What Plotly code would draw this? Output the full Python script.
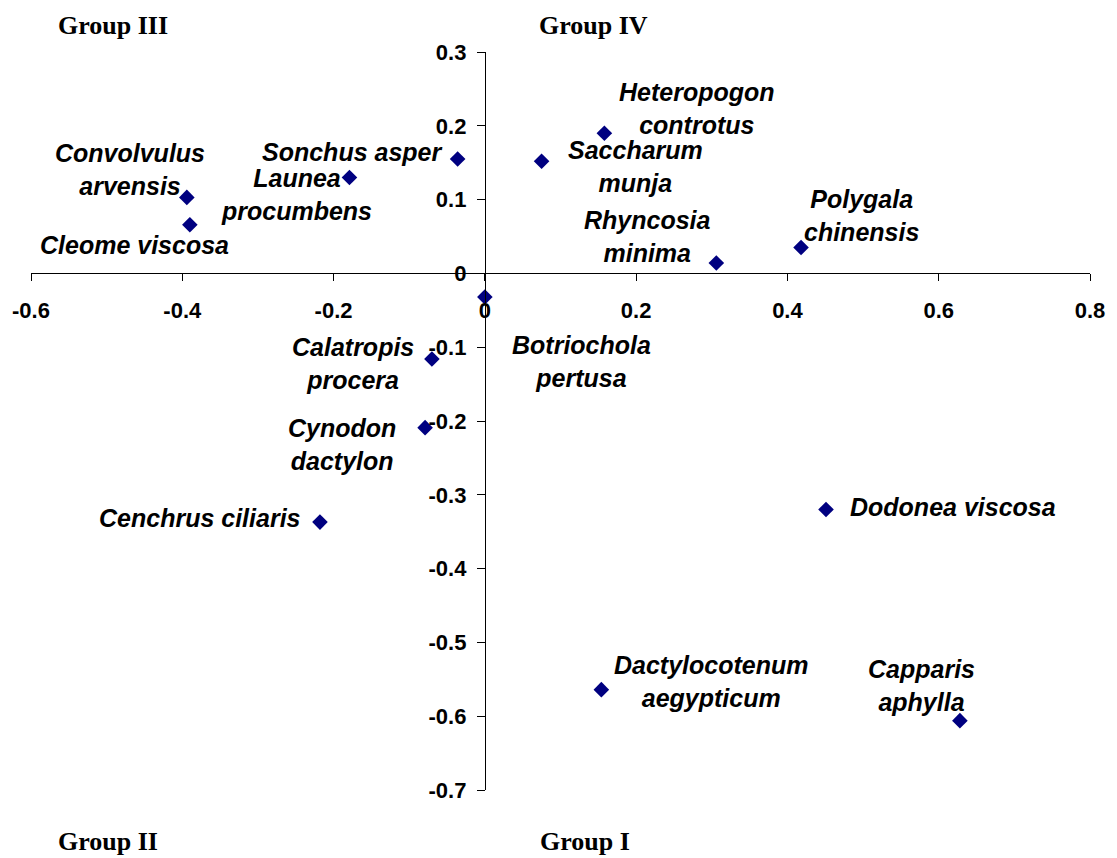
import plotly.graph_objects as go

# ---- data ----
species = [
    "Convolvulus<br>arvensis", "Cleome viscosa", "Launea<br>procumbens", "Sonchus asper",
    "Saccharum<br>munja", "Heteropogon<br>controtus", "Rhyncosia<br>minima",
    "Polygala<br>chinensis", "Botriochola<br>pertusa", "Calatropis<br>procera",
    "Cynodon<br>dactylon", "Cenchrus ciliaris", "Dodonea viscosa",
    "Dactylocotenum<br>aegypticum", "Capparis<br>aphylla",
]
pc1 = [-0.394, -0.390, -0.179, -0.036, 0.075, 0.158, 0.306, 0.418, 0.000,
       -0.070, -0.079, -0.218, 0.451, 0.154, 0.628]
pc2 = [0.103, 0.066, 0.130, 0.155, 0.152, 0.190, 0.014, 0.035, -0.032,
       -0.116, -0.209, -0.337, -0.320, -0.564, -0.606]
x_ticks = [-0.6, -0.4, -0.2, 0, 0.2, 0.4, 0.6, 0.8]
y_ticks = [0.3, 0.2, 0.1, 0, -0.1, -0.2, -0.3, -0.4, -0.5, -0.6, -0.7]
group_names = ["Group III", "Group IV", "Group II", "Group I"]

# ---- label placement (pixel offsets from each point: dx right, dy down) ----
label_offsets = [(-57, -28), (-55, 20), (-53, 17), (-106, -7), (94, 5), (93, -25),
                 (-69, -27), (60, -32), (97, 64), (-79, 4), (-83, 17), (-120, -4),
                 (127, -3), (110, -8), (-38, -35)]
group_pos = [(0.077, 1.036), (0.531, 1.036), (0.073, -0.070), (0.523, -0.070)]

fig = go.Figure()
fig.add_trace(go.Scatter(
    x=pc1, y=pc2, mode="markers",
    marker=dict(symbol="diamond", size=12, color="#000080", line=dict(width=0)),
    hoverinfo="skip", showlegend=False,
))

for name, xv, yv, (dx, dy) in zip(species, pc1, pc2, label_offsets):
    fig.add_annotation(
        x=xv, y=yv, xref="x", yref="y", text=f"<b><i>{name}</i></b>",
        showarrow=False, xshift=dx, yshift=-dy, xanchor="center", yanchor="middle",
        align="center", font=dict(family="Liberation Sans, Arial", size=25, color="black"),
    )

for g, (gx, gy) in zip(group_names, group_pos):
    fig.add_annotation(
        x=gx, y=gy, xref="paper", yref="paper", text=f"<b>{g}</b>", showarrow=False,
        xanchor="center", yanchor="middle",
        font=dict(family="Liberation Serif, Times New Roman", size=26, color="black"),
    )

tickfont = dict(family="Liberation Sans, Arial", size=22, color="black", weight="bold")
fig.update_layout(
    width=1117, height=858,
    margin=dict(l=31, r=24, t=52, b=68),
    paper_bgcolor="white", plot_bgcolor="white",
    xaxis=dict(
        range=[-0.6, 0.8], tickvals=x_ticks, ticktext=[f"{v:g}" for v in x_ticks],
        anchor="free", position=0.7, showline=True, linecolor="black", linewidth=1,
        ticks="outside", ticklen=7, tickcolor="black", showgrid=False, zeroline=False,
        tickfont=tickfont, ticklabelstandoff=10,
    ),
    yaxis=dict(
        range=[-0.7, 0.3], tickvals=y_ticks, ticktext=[f"{v:g}" for v in y_ticks],
        anchor="free", position=0.6 / 1.4, showline=True, linecolor="black", linewidth=1,
        ticks="outside", ticklen=8, tickcolor="black", showgrid=False, zeroline=False,
        tickfont=tickfont, ticklabelstandoff=6,
    ),
)

fig.write_html("out.html", config={"displayModeBar": False},
               post_script="document.body.style.margin='0';")
